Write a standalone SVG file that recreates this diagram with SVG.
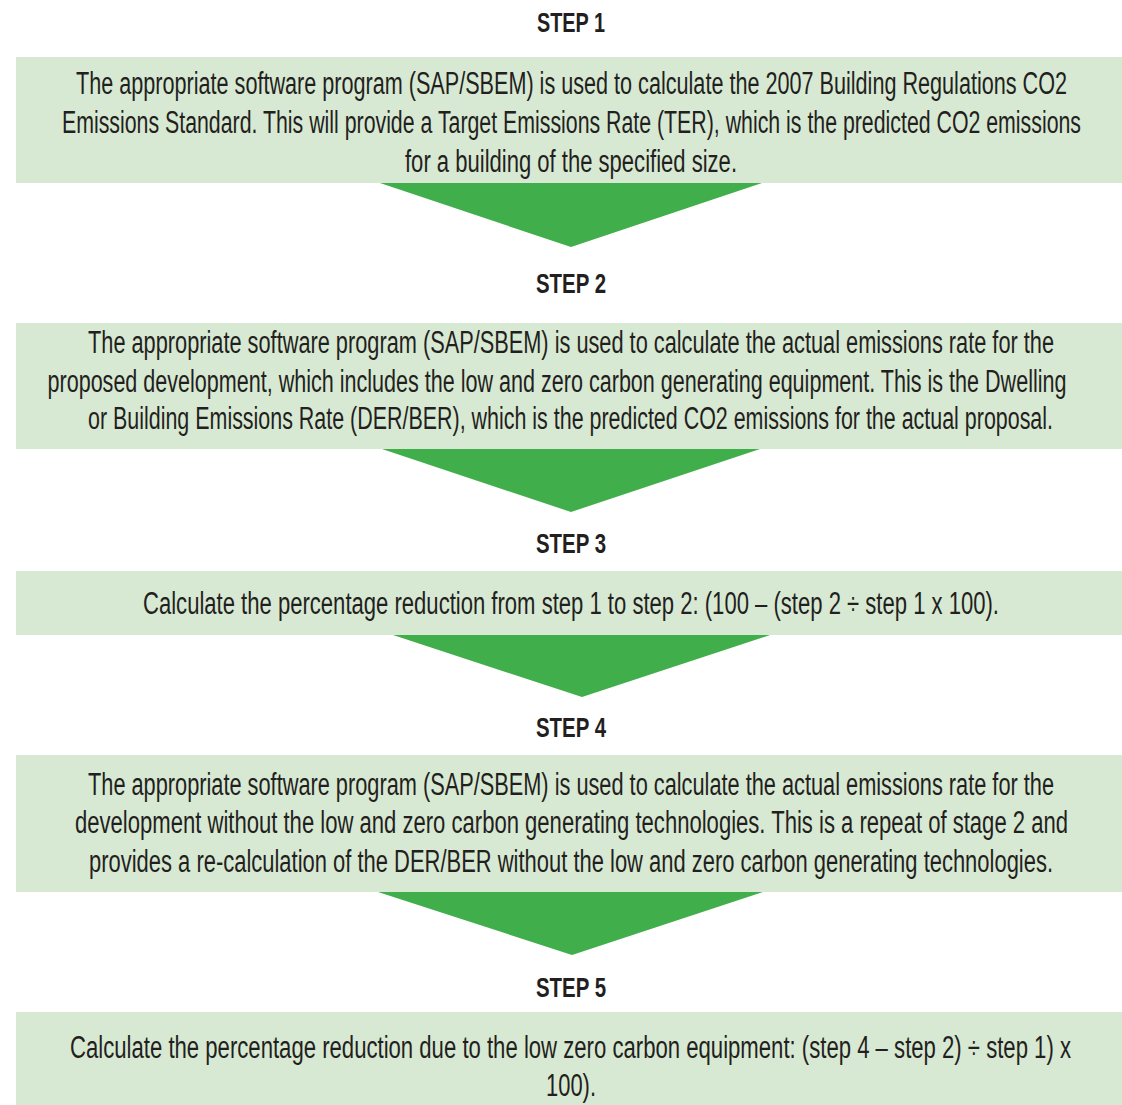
<svg xmlns="http://www.w3.org/2000/svg" width="1122" height="1105" viewBox="0 0 1122 1105">
<style>
.box{fill:#d8e9d3}
.arr{fill:#40ae4b}
.t{font-family:"Liberation Sans",Arial,sans-serif;font-size:31px;fill:#231f20;text-anchor:middle}
.h{font-family:"Liberation Sans",Arial,sans-serif;font-size:28px;font-weight:bold;fill:#231f20;text-anchor:middle}
</style>
<rect width="1122" height="1105" fill="#ffffff"/>
<g id="connectors">
<polygon class="arr" points="380,183 762,183 571,247"/>
<polygon class="arr" points="379,448 763,448 571,512"/>
<polygon class="arr" points="390,634 773,634 582,697"/>
<polygon class="arr" points="378,892 763,892 572,955"/>
</g>
<g id="step1">
<text class="h" x="571" y="32" textLength="68" lengthAdjust="spacingAndGlyphs">STEP 1</text>
<rect class="box" x="16" y="57" width="1106" height="126"/>
<text class="t" x="571.5" y="94" textLength="991" lengthAdjust="spacingAndGlyphs">The appropriate software program (SAP/SBEM) is used to calculate the 2007 Building Regulations CO2</text>
<text class="t" x="571.5" y="133" textLength="1019" lengthAdjust="spacingAndGlyphs">Emissions Standard. This will provide a Target Emissions Rate (TER), which is the predicted CO2 emissions</text>
<text class="t" x="571" y="172" textLength="332" lengthAdjust="spacingAndGlyphs">for a building of the specified size.</text>
</g>
<g id="step2">
<text class="h" x="571" y="293" textLength="70" lengthAdjust="spacingAndGlyphs">STEP 2</text>
<rect class="box" x="16" y="323" width="1106" height="126"/>
<text class="t" x="571" y="353" textLength="966" lengthAdjust="spacingAndGlyphs">The appropriate software program (SAP/SBEM) is used to calculate the actual emissions rate for the</text>
<text class="t" x="557" y="392" textLength="1019" lengthAdjust="spacingAndGlyphs">proposed development, which includes the low and zero carbon generating equipment. This is the Dwelling</text>
<text class="t" x="570.5" y="429" textLength="965" lengthAdjust="spacingAndGlyphs">or Building Emissions Rate (DER/BER), which is the predicted CO2 emissions for the actual proposal.</text>
</g>
<g id="step3">
<text class="h" x="571" y="553" textLength="70" lengthAdjust="spacingAndGlyphs">STEP 3</text>
<rect class="box" x="16" y="571" width="1106" height="64"/>
<text class="t" x="571" y="614" textLength="856" lengthAdjust="spacingAndGlyphs">Calculate the percentage reduction from step 1 to step 2: (100 – (step 2 ÷ step 1 x 100).</text>
</g>
<g id="step4">
<text class="h" x="571" y="737" textLength="70" lengthAdjust="spacingAndGlyphs">STEP 4</text>
<rect class="box" x="16" y="755" width="1106" height="137"/>
<text class="t" x="571" y="795" textLength="966" lengthAdjust="spacingAndGlyphs">The appropriate software program (SAP/SBEM) is used to calculate the actual emissions rate for the</text>
<text class="t" x="571.5" y="833" textLength="993" lengthAdjust="spacingAndGlyphs">development without the low and zero carbon generating technologies. This is a repeat of stage 2 and</text>
<text class="t" x="571" y="872" textLength="964" lengthAdjust="spacingAndGlyphs">provides a re-calculation of the DER/BER without the low and zero carbon generating technologies.</text>
</g>
<g id="step5">
<text class="h" x="571" y="997" textLength="70" lengthAdjust="spacingAndGlyphs">STEP 5</text>
<rect class="box" x="16" y="1012" width="1106" height="93"/>
<text class="t" x="570.5" y="1058" textLength="1001" lengthAdjust="spacingAndGlyphs">Calculate the percentage reduction due to the low zero carbon equipment: (step 4 – step 2) ÷ step 1) x</text>
<text class="t" x="571" y="1096" textLength="50" lengthAdjust="spacingAndGlyphs">100).</text>
</g>
</svg>
